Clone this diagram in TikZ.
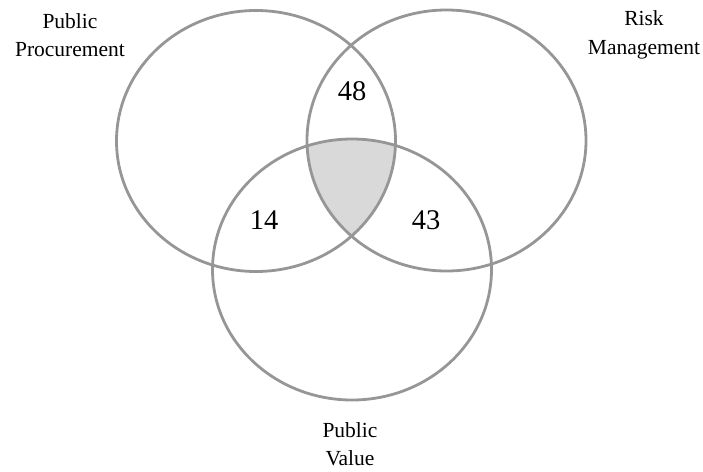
\documentclass[tikz,border=0pt]{standalone}
\usepackage{fontspec}
\setmainfont{Liberation Serif}
\definecolor{ring}{RGB}{150,150,152}
\definecolor{core}{RGB}{217,217,217}
\begin{document}
\begin{tikzpicture}[x=1pt,y=-1pt,
  ring/.style={draw=ring,line width=2.8pt},
  lbl/.style={font=\fontsize{21.5}{28.5}\selectfont,align=center,inner sep=0pt},
  num/.style={font=\fontsize{28.5}{30}\selectfont,inner sep=0pt}]
\useasboundingbox (0,0) rectangle (703,471);
\coordinate (ca) at (256,141);
\coordinate (cb) at (446.5,140.5);
\coordinate (cc) at (352,269.5);
\begin{scope}
  \clip (ca) ellipse [x radius=139.5, y radius=130.5];
  \clip (cb) ellipse [x radius=139.5, y radius=130.5];
  \fill[core] (cc) ellipse [x radius=139.5, y radius=130.5];
\end{scope}
\draw[ring] (ca) ellipse [x radius=139.5, y radius=130.5];
\draw[ring] (cb) ellipse [x radius=139.5, y radius=130.5];
\draw[ring] (cc) ellipse [x radius=139.5, y radius=130.5];
\node[num] (n48) at (352,91) {48};
\node[num] (n14) at (264,220) {14};
\node[num] (n43) at (426,220) {43};
\node[lbl] (pp) at (70,35) {Public\\Procurement};
\node[lbl] (rm) at (644,35) {Risk\\Management};
\node[lbl] (pv) at (350,444) {Public\\Value};
\end{tikzpicture}
\end{document}
